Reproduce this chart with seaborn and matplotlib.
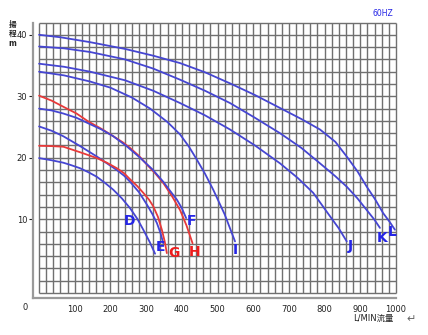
import numpy as np
import pandas as pd
import matplotlib
matplotlib.use("Agg")
import matplotlib.pyplot as plt
import seaborn as sns

# ---- data (flow L/MIN, head m) ----
L_flow = [0, 60, 143, 241, 320, 395, 465, 535, 605, 675, 735, 787, 830, 862, 892, 918, 942, 964, 982, 997]
L_head = [40.0, 39.6, 38.8, 37.7, 36.6, 35.4, 33.9, 32.1, 30.2, 28.1, 26.3, 24.6, 22.6, 20.2, 17.8, 15.3, 13.2, 11.0, 9.6, 8.3]
K_flow = [0, 70, 143, 241, 320, 395, 465, 535, 605, 675, 735, 787, 830, 862, 892, 918, 940, 955]
K_head = [38.1, 37.8, 37.2, 36.0, 34.5, 32.7, 30.9, 28.9, 26.5, 24.0, 21.6, 19.1, 17.0, 15.3, 13.4, 11.5, 9.9, 8.6]
J_flow = [0, 70, 143, 241, 320, 395, 465, 535, 605, 675, 725, 768, 815, 840, 862]
J_head = [35.3, 34.8, 34.0, 32.6, 30.9, 28.9, 26.9, 24.6, 22.0, 19.1, 16.7, 14.3, 10.5, 8.5, 6.4]
I_flow = [0, 70, 143, 200, 260, 311, 360, 395, 420, 442, 465, 488, 520, 549]
I_head = [34.0, 33.4, 32.4, 31.4, 29.8, 28.0, 25.8, 23.8, 21.8, 19.7, 17.4, 14.8, 10.8, 6.4]
H_flow = [0, 35, 68, 105, 138, 175, 208, 235, 255, 280, 302, 325, 348, 372, 395, 413, 430]
H_head = [30.1, 29.3, 28.3, 27.2, 25.9, 24.7, 23.5, 22.5, 21.6, 20.3, 18.9, 17.5, 15.9, 13.8, 11.5, 9.0, 6.1]
F_flow = [0, 35, 68, 105, 138, 175, 208, 245, 283, 318, 348, 370, 386, 400, 412]
F_head = [28.0, 27.7, 27.2, 26.5, 25.6, 24.6, 23.5, 21.9, 20.0, 18.1, 16.1, 14.4, 13.2, 11.8, 10.2]
E_flow = [0, 35, 68, 115, 162, 190, 218, 238, 255, 280, 302, 318, 330, 340, 348]
E_head = [25.1, 24.4, 23.5, 21.9, 20.2, 19.1, 18.0, 17.1, 16.1, 14.4, 12.4, 10.8, 9.4, 7.8, 6.1]
G_flow = [0, 35, 68, 115, 162, 190, 218, 238, 255, 275, 292, 308, 320, 333, 344, 352, 358]
G_head = [21.95, 21.9, 21.8, 20.9, 19.95, 19.2, 18.3, 17.5, 16.5, 15.4, 14.3, 13.2, 12.1, 10.4, 8.3, 6.4, 4.5]
D_flow = [0, 35, 68, 90, 115, 140, 162, 185, 208, 232, 255, 275, 292, 310, 325]
D_head = [19.95, 19.6, 19.2, 18.8, 18.3, 17.6, 16.9, 15.9, 14.8, 13.4, 11.8, 10.1, 8.3, 6.3, 4.4]

models = ["L", "K", "J", "I", "H", "F", "E", "G", "D"]
model_colors = ["blue", "blue", "blue", "blue", "red", "blue", "blue", "red", "blue"]
label_flow = [988, 960, 873, 549, 435, 426, 341, 378, 253]
label_head = [7.9, 6.9, 5.6, 5.0, 4.6, 9.75, 5.5, 4.5, 9.75]

x_ticks = [100, 200, 300, 400, 500, 600, 700, 800, 900, 1000]
y_ticks = [10, 20, 30, 40]

series = {"L": (L_flow, L_head), "K": (K_flow, K_head), "J": (J_flow, J_head),
          "I": (I_flow, I_head), "H": (H_flow, H_head), "F": (F_flow, F_head),
          "E": (E_flow, E_head), "G": (G_flow, G_head), "D": (D_flow, D_head)}
rows = []
for m in models:
    fl, hd = series[m]
    for a, b in zip(fl, hd):
        rows.append({"model": m, "flow": a, "head": b})
df = pd.DataFrame(rows)

LINE_BLUE = "#4646d2"
LINE_RED = "#e83a3a"
TXT_BLUE = "#2525e6"
TXT_RED = "#ee1c1c"
line_pal = {m: (LINE_BLUE if c == "blue" else LINE_RED) for m, c in zip(models, model_colors)}

sns.set_theme(style="white")
plt.rcParams["font.family"] = ["DejaVu Sans", "Noto Sans CJK JP"]

W, H = 428, 335
fig = plt.figure(figsize=(W / 100, H / 100), dpi=100)
fig.patch.set_facecolor("white")
ax = fig.add_axes([33 / W, 37 / H, 363 / W, 275.5 / H])
ax.set_xlim(-17, 1000)
ax.set_ylim(-2.8, 42)

# grid
gcol = "#707070"
ax.vlines(np.arange(0, 1001, 20), -2, 42, color=gcol, lw=1.0, zorder=1, clip_on=False)
ax.hlines(np.arange(-2, 43, 2), 0, 1000, color=gcol, lw=1.0, zorder=1, clip_on=False)

sns.lineplot(data=df, x="flow", y="head", hue="model", palette=line_pal,
             sort=False, estimator=None, legend=False, lw=1.3, ax=ax, zorder=3)

for m, c, fx, fy in zip(models, model_colors, label_flow, label_head):
    ax.text(fx, fy, m, color=(TXT_BLUE if c == "blue" else TXT_RED), fontsize=10,
            fontweight="bold", ha="center", va="center", zorder=4)

for s in ["top", "right"]:
    ax.spines[s].set_visible(False)
for s in ["left", "bottom"]:
    ax.spines[s].set_color("#9a9a9a")
    ax.spines[s].set_linewidth(1.6)

ax.set_xticks(x_ticks)
ax.set_xticklabels([str(v) for v in x_ticks])
ax.set_yticks(y_ticks)
ax.set_yticklabels([str(v) for v in y_ticks])
ax.tick_params(axis="x", length=0, pad=5, labelsize=6, colors="#222222")
ax.tick_params(axis="y", length=3, width=0.8, pad=1.2, labelsize=6, colors="#222222",
               direction="out", left=True)
ax.set_xlabel("")
ax.set_ylabel("")

# corner zero and annotations
cjk = ["Noto Sans CJK JP", "DejaVu Sans"]
fig.text(25 / W, 1 - 307 / H, "0", fontsize=6, ha="center", va="center", color="#222222")
fig.text(12.5 / W, 1 - 24 / H, "揚", fontsize=5.5, fontweight="bold", ha="center", va="center",
         family=cjk)
fig.text(12.5 / W, 1 - 33.5 / H, "程", fontsize=5.5, fontweight="bold", ha="center", va="center",
         family=cjk)
fig.text(12.5 / W, 1 - 43 / H, "m", fontsize=5.5, fontweight="bold", ha="center", va="center")
fig.text(383 / W, 1 - 14 / H, "60HZ", fontsize=5.5, color=TXT_BLUE, ha="center", va="center")
fig.text(373 / W, 1 - 318 / H, "L/MIN流量", fontsize=6, ha="center", va="center",
         family=["DejaVu Sans", "Noto Sans CJK JP"], color="#222222")
fig.text(411 / W, 1 - 319 / H, "↵", fontsize=8, ha="center", va="center", color="#666666",
         family=["DejaVu Sans"])

fig.savefig("out.png", dpi=100, facecolor="white")
